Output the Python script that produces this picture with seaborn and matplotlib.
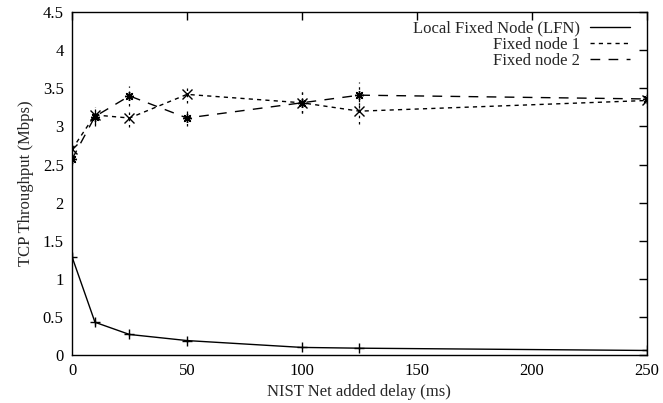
import pandas as pd
import matplotlib
matplotlib.use("Agg")
import matplotlib.pyplot as plt
from matplotlib.lines import Line2D
import seaborn as sns

# delay added by NIST Net (ms)
delay = [0, 10, 25, 50, 100, 125, 250]

lfn = [1.29, 0.43, 0.27, 0.19, 0.10, 0.09, 0.06]
lfn_err = [0.05, 0.03, 0.02, 0.02, 0.01, 0.01, 0.01]

node1 = [2.70, 3.15, 3.11, 3.42, 3.31, 3.20, 3.34]
node1_err = [0.08, 0.12, 0.12, 0.11, 0.14, 0.17, 0.10]

node2 = [2.57, 3.13, 3.40, 3.11, 3.31, 3.41, 3.36]
node2_err = [0.07, 0.12, 0.13, 0.11, 0.14, 0.17, 0.08]

names = ["Local Fixed Node (LFN)", "Fixed node 1", "Fixed node 2"]

df = pd.concat([
    pd.DataFrame({"delay": delay, "tput": lfn, "err": lfn_err, "series": names[0]}),
    pd.DataFrame({"delay": delay, "tput": node1, "err": node1_err, "series": names[1]}),
    pd.DataFrame({"delay": delay, "tput": node2, "err": node2_err, "series": names[2]}),
])

sns.set_style("white")
plt.rcParams["font.family"] = ["Liberation Serif", "DejaVu Serif"]
plt.rcParams["font.size"] = 12

dashes = {names[0]: "", names[1]: (3, 3), names[2]: (7, 6)}
markers = {names[0]: "+", names[1]: "x", names[2]: (8, 2, 0)}

fig = plt.figure(figsize=(6.63, 4.03), dpi=100)
ax = fig.add_axes([0.1086, 0.119, 0.867, 0.851])

sns.lineplot(data=df, x="delay", y="tput", style="series", dashes=dashes,
             markers=markers, color="black", linewidth=1, markersize=6.5,
             markeredgewidth=1, markeredgecolor="black", legend=False, ax=ax)

# error bars, drawn dotted like the original gnuplot figure
for name, g in df.groupby("series"):
    eb = ax.errorbar(g["delay"], g["tput"], yerr=g["err"], fmt="none",
                     ecolor="black", elinewidth=0.9, capsize=0)
    if name != names[0]:
        eb[2][0].set_linestyle((0, (2, 3)))

ax.set_xlim(0, 250)
ax.set_ylim(0, 4.5)
ax.set_xticks(range(0, 251, 50))
ax.set_yticks([i * 0.5 for i in range(10)])
ax.set_yticklabels(["%g" % (i * 0.5) for i in range(10)])
ax.tick_params(direction="in", length=6, width=1, top=True, right=True,
               labelsize=12, colors="black", pad=6)
for s in ax.spines.values():
    s.set_color("black")
    s.set_linewidth(1)
ax.set_xlabel("NIST Net added delay (ms)", fontsize=12, labelpad=3)
ax.set_ylabel("TCP Throughput (Mbps)", fontsize=12, labelpad=6)

handles = [Line2D([], [], color="black", lw=1, linestyle="-"),
           Line2D([], [], color="black", lw=1, dashes=dashes[names[1]]),
           Line2D([], [], color="black", lw=1, dashes=dashes[names[2]])]
leg = ax.legend(handles, names, loc="upper right", frameon=False, markerfirst=False,
                bbox_to_anchor=(0.97, 0.975), borderaxespad=0, borderpad=0,
                handlelength=2.4, labelspacing=0.0, handletextpad=0.6,
                fontsize=12)

fig.savefig("out.png", dpi=100)
